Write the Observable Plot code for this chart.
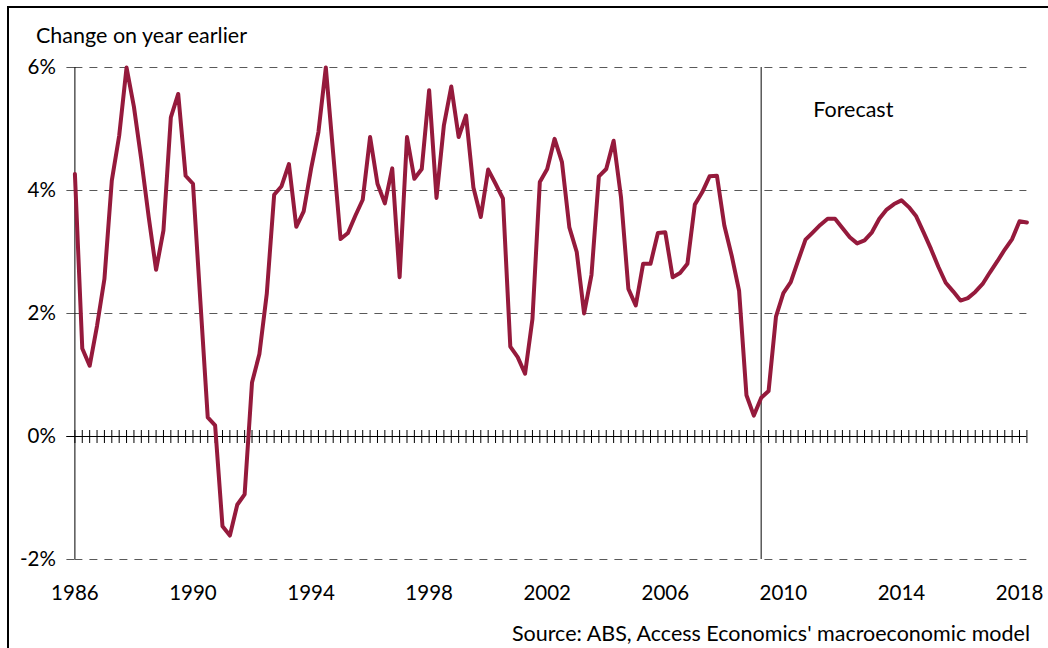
<!DOCTYPE html>
<html>
<head>
<meta charset="utf-8">
<script src="https://cdn.jsdelivr.net/npm/d3@7"></script>
<script src="https://cdn.jsdelivr.net/npm/@observablehq/plot@0.6"></script>
<style>
  html, body { margin: 0; padding: 0; background: #fff; }
  #wrap { position: relative; width: 1048px; height: 648px; overflow: hidden; background: #fff; font-family: Lato, sans-serif; }
  #border { position: absolute; left: 7px; top: 6px; width: 3000px; height: 3000px; border-left: 2px solid #000; border-top: 2px solid #000; }
  #chart { position: absolute; left: 0; top: 0; }
  .txt { position: absolute; font-size: 21.5px; line-height: 1; color: #000; white-space: nowrap; }
  #title { left: 36px; top: 25px; }
  #source { right: 18px; top: 623px; }
</style>
</head>
<body>
<div id="wrap">
  <div id="border"></div>
  <div id="chart"></div>
  <div id="title" class="txt">Change on year earlier</div>
  <div id="source" class="txt">Source: ABS, Access Economics' macroeconomic model</div>
</div>
<script>
// Quarterly series, first quarter = 1986
const startYear = 1986;
const values = [
  4.27, 1.43, 1.15, 1.80, 2.56, 4.16, 4.89, 6.00, 5.36, 4.50,
  3.57, 2.71, 3.35, 5.19, 5.57, 4.24, 4.11, 2.20, 0.31, 0.18,
  -1.46, -1.61, -1.11, -0.94, 0.88, 1.34, 2.32, 3.93, 4.07, 4.43,
  3.41, 3.66, 4.35, 4.95, 6.00, 4.60, 3.21, 3.31, 3.59, 3.85,
  4.87, 4.11, 3.79, 4.36, 2.59, 4.87, 4.19, 4.35, 5.63, 3.88,
  5.06, 5.69, 4.87, 5.22, 4.05, 3.57, 4.34, 4.11, 3.87, 1.46,
  1.29, 1.02, 1.91, 4.14, 4.35, 4.84, 4.46, 3.40, 3.00, 2.00,
  2.63, 4.23, 4.35, 4.81, 3.89, 2.40, 2.13, 2.81, 2.81, 3.31,
  3.32, 2.59, 2.66, 2.81, 3.77, 3.97, 4.23, 4.24, 3.43, 2.94,
  2.37, 0.67, 0.34, 0.63, 0.74, 1.95, 2.33, 2.51, 2.86, 3.20,
  3.32, 3.44, 3.54, 3.54, 3.39, 3.24, 3.14, 3.19, 3.32, 3.54,
  3.69, 3.78, 3.84, 3.73, 3.58, 3.32, 3.05, 2.76, 2.50, 2.36,
  2.21, 2.25, 2.35, 2.48, 2.67, 2.85, 3.04, 3.21, 3.50, 3.48
];
const yearTicks = [1986, 1990, 1994, 1998, 2002, 2006, 2010, 2014, 2018];
const yTicks = [-2, 0, 2, 4, 6];
const gridValues = [-2, 2, 4, 6];
const forecastStart = 2009.25;
const forecastLabel = "Forecast";

const data = values.map((v, i) => ({date: startYear + i / 4, value: v}));
const quarters = data.map(d => d.date);
const xMax = quarters[quarters.length - 1];

const chart = Plot.plot({
  width: 1048,
  height: 648,
  marginLeft: 74.4,
  marginRight: 1048 - 1026.4,
  marginTop: 67,
  marginBottom: 89,
  style: {fontFamily: "Lato, sans-serif", fontSize: "20.5px", background: "transparent", color: "#000"},
  x: {domain: [startYear, xMax], label: null},
  y: {domain: [-2, 6], label: null},
  marks: [
    Plot.ruleY(gridValues, {stroke: "#595959", strokeWidth: 1, strokeDasharray: "8,7"}),
    Plot.axisY({ticks: yTicks, tickFormat: d => d + "%", tickSize: 8, tickPadding: 11, stroke: "#595959", fill: "#000", fontSize: 20.5, label: null}),
    Plot.axisX({ticks: yearTicks, tickFormat: d => String(d), tickSize: 0, tickPadding: 26, fill: "#000", fontSize: 20.5, label: null}),
    Plot.ruleX([startYear], {stroke: "#000", strokeWidth: 1}),
    Plot.ruleY([0], {stroke: "#000", strokeWidth: 1, insetLeft: -8}),
    Plot.ruleX(quarters, {x: d => d, y1: 0, y2: 0, insetTop: -6, insetBottom: -7, stroke: "#000", strokeWidth: 1}),
    Plot.ruleX([forecastStart], {stroke: "#595959", strokeWidth: 1.5}),
    Plot.line(data, {x: "date", y: "value", stroke: "#951A3C", strokeWidth: 4}),
    Plot.text([forecastLabel], {x: forecastStart, frameAnchor: "top", lineAnchor: "middle", dx: 52, dy: 43, text: d => d, textAnchor: "start", fill: "#000", fontSize: 21.5})
  ]
});
document.getElementById("chart").appendChild(chart);
</script>
</body>
</html>
